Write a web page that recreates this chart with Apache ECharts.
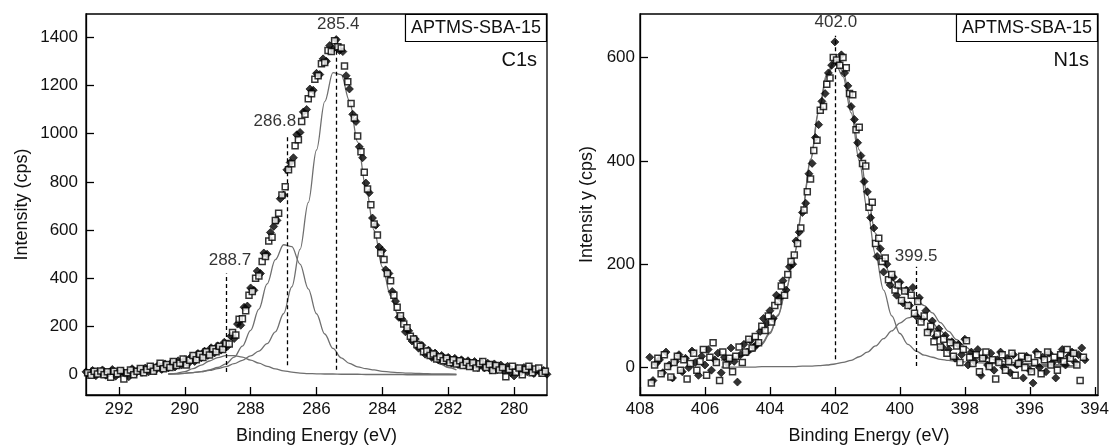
<!DOCTYPE html>
<html>
<head>
<meta charset="utf-8">
<title>APTMS-SBA-15 XPS C1s / N1s</title>
<script src="https://cdn.jsdelivr.net/npm/echarts@6.0.0/dist/echarts.min.js"></script>
<style>
  html, body { margin: 0; padding: 0; background: #fff; }
  #chart { width: 1109px; height: 446px; }
</style>
</head>
<body>
<div id="chart"></div>
<script>
/*
 * Two XPS panels (C1s left, N1s right).
 * Measured points come in two marker sets, each on a 0.1 eV grid,
 * the open set shifted by 0.05 eV against the filled one.
 */

/* ---- C1s ---- */
let c1sFilledStart = 293.0;
let c1sFilled = [
  12, 2, 18, -4, 10, 20, -2, 8, 22, -6,
  5, 15, 2, -8, 25, 6, 20, 10, 28, 12,
  30, 18, 40, 22, 45, 28, 50, 32, 58, 40,
  62, 46, 75, 55, 88, 70, 98, 80, 112, 90,
  120, 102, 135, 118, 160, 150, 210, 205, 280, 285,
  360, 350, 430, 420, 505, 500, 590, 615, 640, 730,
  745, 850, 880, 900, 995, 1005, 1090, 1100, 1185, 1180,
  1250, 1245, 1310, 1300, 1365, 1350, 1390, 1345, 1340, 1240,
  1185, 1080, 1050, 945, 900, 795, 755, 650, 620, 530,
  515, 435, 420, 345, 305, 238, 230, 178, 182, 140,
  148, 110, 122, 85, 102, 72, 90, 62, 80, 55,
  72, 48, 68, 42, 62, 40, 58, 36, 55, 30,
  52, 28, 48, 20, 45, 22, 40, 15, 35, 8,
  -5, 25, 10, 30, 12, 28, 5, 22, 10, 18,
  2,
];
let c1sOpenStart = 292.95;
let c1sOpen = [
  8, -2, 14, 3, 16, 0, 12, -10, 15, 4,
  18, -18, 8, 20, 0, 14, 26, 8, 22, 35,
  15, 30, 48, 25, 42, 30, 55, 38, 48, 65,
  40, 60, 80, 62, 85, 72, 95, 82, 108, 95,
  118, 105, 130, 128, 175, 165, 230, 232, 265, 330,
  345, 400, 410, 470, 490, 555, 570, 640, 670, 745,
  780, 850, 875, 950, 975, 1050, 1080, 1145, 1165, 1225,
  1240, 1290, 1295, 1345, 1340, 1385, 1360, 1355, 1280, 1215,
  1125, 1065, 990, 925, 840, 770, 705, 625, 580, 505,
  478, 420, 390, 330, 280, 245, 210, 195, 160, 148,
  125, 118, 95, 98, 80, 86, 65, 75, 58, 68,
  50, 62, 45, 58, 38, 52, 34, 50, 28, 46,
  55, 30, 42, 18, 38, 20, 30, -8, 22, 35,
  10, 28, 0, 22, 35, 8, 24, 28, 6, 15,
];

let c1sFitEnergy = [
  290.5, 290.25, 290, 289.75, 289.5, 289.25, 289, 288.75, 288.5, 288.25,
  288, 287.75, 287.5, 287.25, 287, 286.75, 286.5, 286.25, 286, 285.75,
  285.5, 285.25, 285, 284.75, 284.5, 284.25, 284, 283.75, 283.5, 283.25,
  283, 282.75, 282.5, 282.25, 282, 281.75,
];
let c1sFitMain = [
  3, 4, 6, 9, 13, 18, 25, 34, 46, 60,
  78, 98, 129, 178, 253, 365, 520, 714, 932, 1133,
  1253, 1245, 1136, 965, 777, 599, 447, 327, 239, 176,
  120, 90, 65, 45, 30, 20,
];
let c1sFitMid = [
  3, 4, 6, 9, 13, 20, 30, 45, 73, 119,
  184, 272, 377, 477, 539, 531, 459, 356, 253, 169,
  109, 70, 47, 33, 25, 20, 14, 11, 9, 7,
  6, 5, 4, 3, 3, 2,
];
let c1sFitHigh = [
  3, 6, 13, 25, 40, 57, 71, 79, 79, 73,
  61, 48, 35, 24, 16, 11, 7, 5, 4, 3,
  3, 2, 2, 2, 1, 1, 1, 1, 1, 0,
  0, 0, 0, 0, 0, 0,
];

let c1sPeakEnergy = [285.4, 286.9, 288.75];
let c1sPeakText = ["285.4", "286.8", "288.7"];
let c1sPeakTop = [1390, 995, 420];
let c1sPeakBottom = [21, 39, 11];

let c1sXTicks = [280, 282, 284, 286, 288, 290, 292];
let c1sYTicks = [0, 200, 400, 600, 800, 1000, 1200, 1400];

/* ---- N1s ---- */
let n1sFilledStart = 407.7;
let n1sFilled = [
  20, -25, 8, 15, -10, 30, 5, -20, 12, 25,
  -8, 18, 0, 32, 10, -15, 22, 5, 35, -5,
  15, 28, -10, 20, 8, 38, 12, -28, 25, 45,
  30, 52, 40, 45, 70, 95, 85, 110, 95, 140,
  135, 168, 150, 195, 200, 245, 262, 300, 318, 375,
  395, 445, 470, 515, 530, 570, 585, 630, 590, 605,
  570, 545, 505, 480, 435, 410, 360, 340, 290, 270,
  215, 230, 185, 200, 160, 175, 140, 165, 125, 150,
  120, 155, 100, 135, 95, 110, 72, 90, 60, 75,
  40, 62, 35, 50, 18, 45, 25, 55, 5, 30,
  12, 35, -15, 20, 5, 28, -5, 15, 30, 0,
  18, -10, 25, 5, 12, -20, 22, -5, -30, 30,
  0, 20, -8, 28, 10, -20, 15, 35, 5, 22,
  30, 10, 25, 38, 15,
];
let n1sOpenStart = 407.65;
let n1sOpen = [
  -30, 5, 18, -12, 25, 2, -18, 10, 22, -5,
  15, -22, 8, 28, -5, 12, 35, -15, 20, 48,
  10, -25, 30, 5, 18, -8, 22, 40, 10, 30,
  55, 38, 60, 48, 80, 72, 100, 88, 120, 128,
  158, 140, 180, 205, 218, 240, 270, 305, 340, 365,
  420, 440, 498, 505, 548, 560, 600, 595, 585, 600,
  580, 530, 528, 460, 465, 395, 390, 310, 320, 240,
  250, 205, 212, 170, 180, 150, 160, 130, 148, 120,
  140, 105, 128, 88, 100, 68, 80, 50, 65, 40,
  55, 28, 48, 22, 42, 10, 35, 52, 20, 8,
  25, -8, 18, 30, 2, 15, -22, 10, 25, -5,
  12, 28, -15, 8, 22, 0, 18, -8, 10, 25,
  -12, 15, 30, 5, 20, -5, 25, 12, 35, 18,
  28, 5, -25, 20,
];

let n1sFitEnergy = [
  405.5, 405.25, 405, 404.75, 404.5, 404.25, 404, 403.75, 403.5, 403.25,
  403, 402.75, 402.5, 402.25, 402, 401.75, 401.5, 401.25, 401, 400.75,
  400.5, 400.25, 400, 399.75, 399.5, 399.25, 399, 398.75, 398.5, 398.25,
  398, 397.75, 397.5, 397.25, 397, 396.75, 396.5, 396.25, 396, 395.75,
  395.5, 395.25, 395, 394.75, 394.5,
];
let n1sFitMain = [
  14, 16, 20, 24, 32, 45, 66, 100, 150, 218,
  304, 400, 493, 563, 590, 563, 493, 400, 304, 218,
  150, 100, 66, 45, 32, 24, 20, 16, 14, 12,
  11, 10, 9, 8, 7, 6, 6, 5, 5, 4,
  4, 4, 3, 3, 3,
];
let n1sFitMinor = [
  1, 1, 1, 1, 1, 2, 2, 2, 2, 2,
  3, 3, 4, 5, 7, 10, 14, 21, 30, 42,
  56, 71, 86, 96, 100, 96, 86, 71, 56, 42,
  30, 21, 14, 10, 7, 5, 4, 3, 3, 2,
  2, 2, 2, 1, 1,
];
let n1sFitSum = [
  15, 17, 21, 25, 33, 47, 68, 102, 152, 220,
  307, 403, 497, 568, 597, 573, 507, 421, 334, 260,
  206, 171, 152, 141, 132, 120, 106, 87, 70, 54,
  41, 31, 23, 18, 14, 11, 10, 8, 8, 6,
  6, 6, 5, 4, 4,
];

let n1sPeakEnergy = [402.0, 399.5];
let n1sPeakText = ["402.0", "399.5"];
let n1sPeakTop = [642, 195];
let n1sPeakBottom = [16, 3];

let n1sXTicks = [394, 396, 398, 400, 402, 404, 406, 408];
let n1sYTicks = [0, 200, 400, 600];

/* ---- helpers ---- */
let FONT = "'Liberation Sans', Arial, Helvetica, sans-serif";
let INK = "#111";
let FIT_GREY = "#6f6f6f";

function gridPoints(start, values) {
  return values.map(function (v, i) {
    return [+(start - i * 0.1).toFixed(2), v];
  });
}

function pairUp(xs, ys) {
  return xs.map(function (x, i) { return [x, ys[i]]; });
}

function filledSeries(idx, start, values) {
  return {
    type: "scatter", xAxisIndex: idx, yAxisIndex: idx, z: 4,
    symbol: "diamond", symbolSize: 8,
    itemStyle: { color: "#000", borderColor: "#000", borderWidth: 0.8 },
    data: gridPoints(start, values),
  };
}

function openSeries(idx, start, values) {
  return {
    type: "scatter", xAxisIndex: idx, yAxisIndex: idx, z: 5,
    symbol: "rect", symbolSize: 6,
    itemStyle: { color: "#fff", borderColor: "#000", borderWidth: 1.5 },
    data: gridPoints(start, values),
  };
}

function fitSeries(idx, xs, ys) {
  return {
    type: "line", xAxisIndex: idx, yAxisIndex: idx, z: 2,
    showSymbol: false, smooth: 0.35, smoothMonotone: "x",
    lineStyle: { color: FIT_GREY, width: 1.3 },
    data: pairUp(xs, ys),
  };
}

/* dashed peak markers with their energy label on top */
function peakSeries(idx, energy, text, top, bottom, nudges) {
  return {
    type: "scatter", xAxisIndex: idx, yAxisIndex: idx, z: 6,
    symbolSize: 0, silent: true,
    label: {
      show: true, position: "top", color: "#000",
      fontFamily: FONT, fontSize: 17,
      formatter: function (p) { return text[p.dataIndex]; },
    },
    data: energy.map(function (e, i) {
      return { value: [e, top[i]], label: { offset: nudges[i] } };
    }),
    markLine: {
      silent: true, symbol: ["none", "none"], label: { show: false },
      lineStyle: { color: "#000", width: 1.3, type: [4, 3] },
      data: energy.map(function (e, i) {
        return [{ coord: [e, bottom[i]] }, { coord: [e, top[i]] }];
      }),
    },
  };
}

function plainNumber(v) { return String(v); }

function xAxisFor(idx, min, max, ticks) {
  return {
    type: "value", gridIndex: idx, inverse: true, min: min, max: max,
    name: "Binding Energy (eV)", nameLocation: "middle", nameGap: 32,
    nameTextStyle: { color: INK, fontFamily: FONT, fontSize: 18 },
    axisLine: { onZero: false, lineStyle: { color: "#000", width: 1.3 } },
    axisTick: { inside: true, length: 8, customValues: ticks,
      lineStyle: { color: "#000", width: 1.3 } },
    axisLabel: { customValues: ticks, margin: 6, color: INK,
      fontFamily: FONT, fontSize: 17, formatter: plainNumber },
    splitLine: { show: false },
  };
}

function yAxisFor(idx, min, max, ticks, title, gap, margin) {
  return {
    type: "value", gridIndex: idx, min: min, max: max,
    name: title, nameLocation: "middle", nameGap: gap,
    nameTextStyle: { color: INK, fontFamily: FONT, fontSize: 18 },
    axisLine: { onZero: false, lineStyle: { color: "#000", width: 1.3 } },
    axisTick: { inside: true, length: 8, customValues: ticks,
      lineStyle: { color: "#000", width: 1.3 } },
    axisLabel: { customValues: ticks, margin: margin, color: INK,
      fontFamily: FONT, fontSize: 17, formatter: plainNumber },
    splitLine: { show: false },
  };
}

function tagBox(right) {
  return {
    text: "APTMS-SBA-15", right: right, top: 14,
    borderColor: "#000", borderWidth: 1.2, backgroundColor: "#fff",
    padding: [5, 6, 4, 6],
    textStyle: { color: INK, fontFamily: FONT, fontSize: 18,
      fontWeight: "normal", lineHeight: 19 },
  };
}

function coreLevel(text, right) {
  return {
    text: text, right: right, top: 50, padding: 0,
    textStyle: { color: INK, fontFamily: FONT, fontSize: 20,
      fontWeight: "normal" },
  };
}

let chart = echarts.init(document.getElementById("chart"), null, { renderer: "canvas" });

chart.setOption({
  animation: false,
  backgroundColor: "#fff",
  title: [tagBox(562), coreLevel("C1s", 572), tagBox(11), coreLevel("N1s", 20)],
  grid: [
    { left: 86, right: 562, top: 14, bottom: 51, show: true,
      outerBoundsMode: "none", containLabel: false,
      borderColor: "#000", borderWidth: 1.3 },
    { left: 640, right: 11, top: 14, bottom: 51, show: true,
      outerBoundsMode: "none", containLabel: false,
      borderColor: "#000", borderWidth: 1.3 },
  ],
  xAxis: [
    xAxisFor(0, 279, 293, c1sXTicks),
    xAxisFor(1, 393.9, 408, n1sXTicks),
  ],
  yAxis: [
    yAxisFor(0, -84, 1496, c1sYTicks, "Intensity (cps)", 55, 8),
    yAxisFor(1, -53, 684, n1sYTicks, "Intensit y (cps)", 44, 5),
  ],
  series: [
    fitSeries(0, c1sFitEnergy, c1sFitMain),
    fitSeries(0, c1sFitEnergy, c1sFitMid),
    fitSeries(0, c1sFitEnergy, c1sFitHigh),
    filledSeries(0, c1sFilledStart, c1sFilled),
    openSeries(0, c1sOpenStart, c1sOpen),
    peakSeries(0, c1sPeakEnergy, c1sPeakText, c1sPeakTop, c1sPeakBottom,
      [[2, -2], [-12, 0], [4, 0]]),

    fitSeries(1, n1sFitEnergy, n1sFitMain),
    fitSeries(1, n1sFitEnergy, n1sFitMinor),
    fitSeries(1, n1sFitEnergy, n1sFitSum),
    filledSeries(1, n1sFilledStart, n1sFilled),
    openSeries(1, n1sOpenStart, n1sOpen),
    peakSeries(1, n1sPeakEnergy, n1sPeakText, n1sPeakTop, n1sPeakBottom,
      [[1, 0], [0, 3]]),
  ],
});

window.addEventListener("resize", function () { chart.resize(); });
</script>
</body>
</html>
